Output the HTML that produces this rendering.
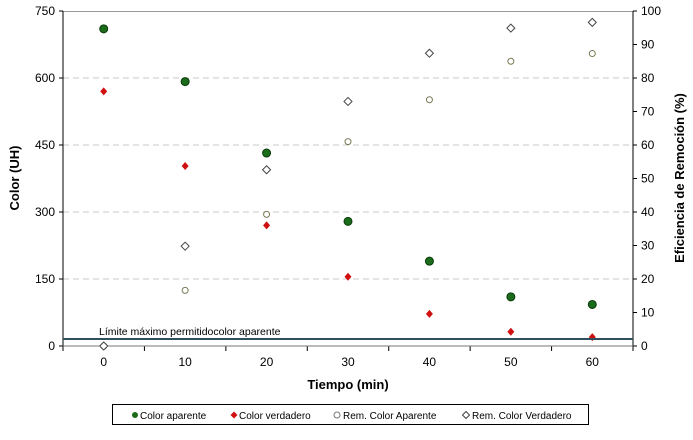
<!DOCTYPE html>
<html><head><meta charset="utf-8"><style>
body{margin:0;background:#fff;width:693px;height:435px;overflow:hidden;font-family:"Liberation Sans",Arial,sans-serif}
svg text{font-family:"Liberation Sans",Arial,sans-serif}
</style></head><body>
<svg id="chart" width="693" height="435" xmlns="http://www.w3.org/2000/svg">
<g id="grid"></g>
<g id="axes"></g>
<g id="marks"></g>
<text transform="translate(19,178) rotate(-90)" text-anchor="middle" font-size="13" font-weight="bold">Color (UH)</text>
<text transform="translate(684,178) rotate(-90)" text-anchor="middle" font-size="13" font-weight="bold">Eficiencia  de Remoción  (%)</text>
<text x="348" y="389" text-anchor="middle" font-size="13" font-weight="bold">Tiempo  (min)</text>
<line x1="63" x2="633" y1="339" y2="339" stroke="#2f4f5f" stroke-width="2"/>
<text x="99" y="335" font-size="10.5">Límite máximo permitidocolor aparente</text>
<g>
<rect x="112.5" y="404.5" width="476" height="20" fill="#fff" stroke="#000"/>
<circle cx="135" cy="415" r="3" fill="#1a6b1a"/><text x="140" y="419" font-size="10">Color aparente</text>
<path d="M234,411.5 L237.5,415 L234,418.5 L230.5,415Z" fill="#d01010"/><text x="239" y="419" font-size="10">Color verdadero</text>
<circle cx="337" cy="415" r="3" fill="none" stroke="#777"/><text x="343" y="419" font-size="10">Rem. Color Aparente</text>
<path d="M466,411.5 L469.5,415 L466,418.5 L462.5,415Z" fill="#fff" stroke="#444"/><text x="472" y="419" font-size="10">Rem. Color Verdadero</text>
</g>
</svg>
<script>
const times=[0,10,20,30,40,50,60];
const colorAparente=[710,592,432,279,190,110,93];
const colorVerdadero=[570,403,270,155,72,32,20];
const remAparente=[0,16.6,39.3,61,73.5,85,87.3];
const remVerdadero=[0,29.8,52.6,73,87.4,94.9,96.6];
const yTicks=[0,150,300,450,600,750];
const y2Ticks=[0,10,20,30,40,50,60,70,80,90,100];
const xTicks=[0,10,20,30,40,50,60];
const L=63,R=633,T=11,B=346;
const xs=v=>L+(v+5)/70*(R-L);
const ys=v=>B-v/750*(B-T);
const y2s=v=>B-v/100*(B-T);
const NS="http://www.w3.org/2000/svg";
function mk(p,tag,a){const e=document.createElementNS(NS,tag);for(const k in a)e.setAttribute(k,a[k]);p.appendChild(e);return e;}
const grid=document.getElementById('grid'),axes=document.getElementById('axes'),marks=document.getElementById('marks');
yTicks.forEach(t=>{if(t>0&&t<750){const g=mk(grid,'line',{x1:L,x2:R,y1:ys(t),y2:ys(t),stroke:'#c8c8c8','stroke-dasharray':'6,4'});

}
mk(axes,'line',{x1:L-4,x2:L,y1:ys(t),y2:ys(t),stroke:'#000'});
const tx=mk(axes,'text',{x:L-8,y:ys(t)+4,'text-anchor':'end','font-size':12});tx.textContent=t;

});
mk(grid,'line',{x1:L,x2:R,y1:T+0.5,y2:T+0.5,stroke:'#999'});
y2Ticks.forEach(t=>{mk(axes,'line',{x1:R,x2:R+4,y1:y2s(t),y2:y2s(t),stroke:'#000'});
const tx=mk(axes,'text',{x:R+8,y:y2s(t)+4,'font-size':12});tx.textContent=t;

});
for(let v=-5;v<=65;v+=10){mk(axes,'line',{x1:xs(v),x2:xs(v),y1:B,y2:B+5,stroke:'#000'});}
xTicks.forEach(t=>{const tx=mk(axes,'text',{x:xs(t),y:B+20,'text-anchor':'middle','font-size':12});tx.textContent=t;

});
mk(axes,'line',{x1:L,x2:L,y1:T,y2:B,stroke:'#000'});
mk(axes,'line',{x1:R,x2:R,y1:T,y2:B,stroke:'#000'});
mk(axes,'line',{x1:L,x2:R,y1:B,y2:B,stroke:'#777'});
times.forEach((t,i)=>{
let e=mk(marks,'circle',{cx:xs(t),cy:y2s(remAparente[i]),r:3,fill:'#fff',stroke:'#7a7a55'});


let x=xs(t),y=y2s(remVerdadero[i]);
e=mk(marks,'path',{d:`M${x},${y-4}L${x+4},${y}L${x},${y+4}L${x-4},${y}Z`,fill:'#fff',stroke:'#444'});


e=mk(marks,'circle',{cx:xs(t),cy:ys(colorAparente[i]),r:4,fill:'#1a6b1a',stroke:'#0a3a0a'});


y=ys(colorVerdadero[i]);
e=mk(marks,'path',{d:`M${x},${y-4}L${x+3.5},${y}L${x},${y+4}L${x-3.5},${y}Z`,fill:'#d01010'});


});
</script>
</body></html>
